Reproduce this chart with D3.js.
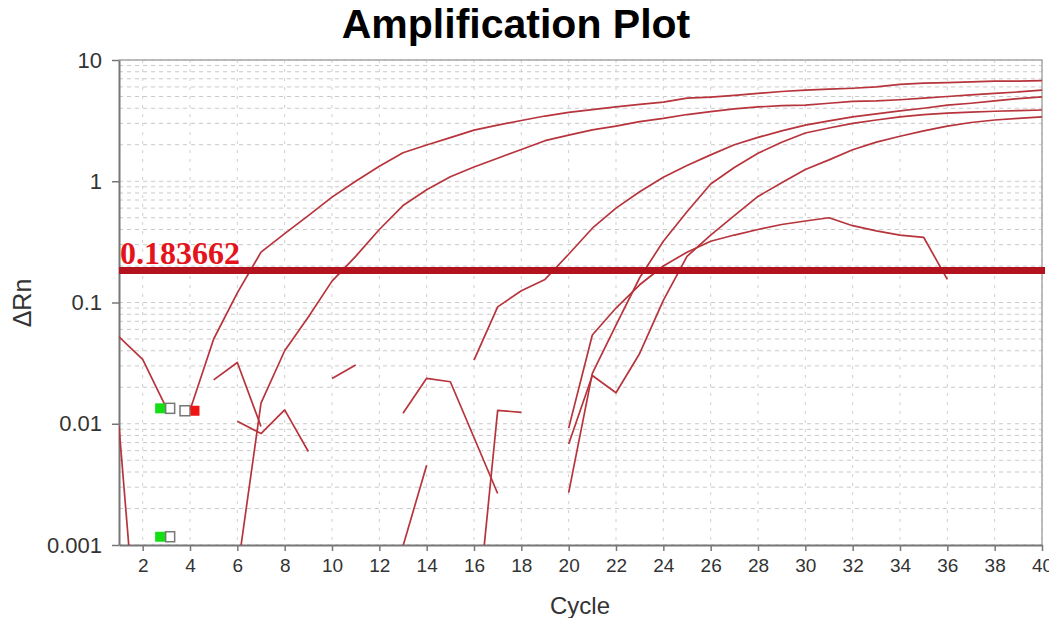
<!DOCTYPE html>
<html>
<head>
<meta charset="utf-8">
<script src="https://cdn.jsdelivr.net/npm/d3@7"></script>
<style>
  body { margin: 0; background: #fff; }
  svg { font-family: "Liberation Sans", Arial, sans-serif; }
</style>
</head>
<body>
<div id="chart"></div>
<script>
// Data
var xTicks = [2, 4, 6, 8, 10, 12, 14, 16, 18, 20, 22, 24, 26, 28, 30, 32, 34, 36, 38, 40];
var yTicks = [0.001, 0.01, 0.1, 1, 10];
var yTickLabels = ["0.001", "0.01", "0.1", "1", "10"];
var threshold = 0.183662;

// amplification curves, one value per cycle from the start cycle
var curveA = [0.0129, 0.05, 0.12, 0.26, 0.37, 0.52, 0.74, 1.0, 1.33, 1.72, 1.99, 2.29, 2.64, 2.9, 3.17,
  3.45, 3.7, 3.9, 4.1, 4.3, 4.5, 4.85, 4.95, 5.1, 5.3, 5.5, 5.65, 5.75, 5.85, 6.0, 6.3, 6.45, 6.5,
  6.6, 6.7, 6.7, 6.75];                                   // cycles 4..40
var curveB = [0.0006, 0.0148, 0.04, 0.076, 0.15, 0.24, 0.40, 0.63, 0.85, 1.09, 1.31, 1.55, 1.83, 2.16,
  2.4, 2.65, 2.85, 3.1, 3.3, 3.55, 3.75, 3.95, 4.1, 4.2, 4.25, 4.4, 4.55, 4.6, 4.7, 4.85, 5.0, 5.15,
  5.3, 5.45, 5.65];                                       // cycles 6..40
var curveC = [0.0335, 0.092, 0.125, 0.155, 0.25, 0.41, 0.6, 0.82, 1.08, 1.35, 1.65, 2.0, 2.3, 2.6, 2.9,
  3.15, 3.4, 3.6, 3.8, 4.0, 4.25, 4.4, 4.6, 4.8, 4.96];   // cycles 16..40
var curveD = [0.0027, 0.026, 0.065, 0.16, 0.32, 0.56, 0.95, 1.3, 1.7, 2.1, 2.5, 2.75, 3.0, 3.2, 3.4,
  3.55, 3.65, 3.72, 3.78, 3.83, 3.87];                     // cycles 20..40
var curveE = [0.0068, 0.025, 0.0180, 0.038, 0.104, 0.24, 0.36, 0.52, 0.75, 0.97, 1.25, 1.5, 1.82, 2.1,
  2.35, 2.6, 2.85, 3.05, 3.2, 3.3, 3.39];                  // cycles 20..40
var curveF = [0.0092, 0.054, 0.09, 0.14, 0.2, 0.26, 0.32, 0.36, 0.4, 0.44, 0.47, 0.5, 0.43, 0.39, 0.36,
  0.345, 0.155];                                          // cycles 20..36
// short noisy traces
var noise1 = [0.052, 0.034, 0.0135];                      // cycles 1..3
var noise2 = [0.0095, 0.00004];                           // cycles 1..2
var noise3 = [0.023, 0.032, 0.0095];                      // cycles 5..7
var noise4 = [0.0105, 0.0083, 0.013, 0.0059];             // cycles 6..9
var noise5 = [0.0236, 0.0305];                            // cycles 10..11
var noise6 = [0.0122, 0.0237, 0.0222, 0.0077, 0.00266];   // cycles 13..17
var noise7 = [0.00098, 0.00455];                          // cycles 13..14
var noise8 = [0.00014, 0.0129, 0.0124];                   // cycles 16..18

var curveStarts = [4, 6, 16, 20, 20, 20, 1, 1, 5, 6, 10, 13, 13, 16];
var curveValues = [curveA, curveB, curveC, curveD, curveE, curveF,
  noise1, noise2, noise3, noise4, noise5, noise6, noise7, noise8];

// baseline marker pairs
var markerCycles = [2.95, 4.0, 2.95];
var markerValues = [0.0134, 0.0128, 0.00117];
var markerLeft = ["#12e012", "#ffffff", "#12e012"];
var markerRight = ["#ffffff", "#ee1515", "#ffffff"];

//   Base chart space
var margin = {top: 60, right: 7, bottom: 73, left: 119},
  totalW = 1049, totalH = 618,
  width = totalW - margin.left - margin.right,
  height = totalH - margin.top - margin.bottom;

var svg = d3.select('#chart').append('svg')
  .attr('width', totalW)
  .attr('height', totalH);
var g = svg.append('g')
  .attr('transform', 'translate(' + margin.left + ',' + margin.top + ')');

var x = d3.scaleLinear().domain([1, 40]).range([0, width]);
var y = d3.scaleLog().domain([0.001, 10]).range([height, 0]);

// Grid
g.append('g').selectAll('line')
  .data(y.ticks())
  .enter().append('line')
  .attr('x1', 0).attr('x2', width)
  .attr('y1', function(d) { return y(d); })
  .attr('y2', function(d) { return y(d); })
  .attr('stroke', '#c9c9c9')
  .attr('stroke-dasharray', '4,4');
g.append('g').selectAll('line')
  .data(xTicks)
  .enter().append('line')
  .attr('y1', 0).attr('y2', height)
  .attr('x1', function(d) { return x(d); })
  .attr('x2', function(d) { return x(d); })
  .attr('stroke', '#cfcfcf')
  .attr('stroke-dasharray', '3,6');

// frame (top and right)
g.append('path')
  .attr('d', 'M0,0H' + width + 'V' + height)
  .attr('fill', 'none')
  .attr('stroke', '#a8a8a8')
  .attr('stroke-width', 1.5);

// Axes
var yAxis = g.append('g')
  .call(d3.axisLeft(y).tickValues(yTicks)
    .tickFormat(function(d, i) { return yTickLabels[i]; })
    .tickSize(7).tickSizeOuter(0).tickPadding(10));
var xAxis = g.append('g')
  .attr('transform', 'translate(0,' + height + ')')
  .call(d3.axisBottom(x).tickValues(xTicks).tickSize(6).tickSizeOuter(0).tickPadding(8));
[xAxis, yAxis].forEach(function(a) {
  a.attr('font-family', '"Liberation Sans", Arial, sans-serif');
  a.select('.domain').attr('stroke', '#777').attr('stroke-width', 2);
  a.selectAll('.tick line').attr('stroke', '#777').attr('stroke-width', 1.5);
  a.selectAll('.tick text').attr('fill', '#333');
});
yAxis.attr('font-size', '22px');
xAxis.attr('font-size', '19px');

// Curves
g.append('clipPath').attr('id', 'plotclip')
  .append('rect').attr('width', width).attr('height', height);

var line = d3.line()
  .x(function(d) { return x(d[0]); })
  .y(function(d) { return y(d[1]); });

g.append('g').attr('clip-path', 'url(#plotclip)')
  .selectAll('path')
  .data(curveValues.map(function(vals, i) {
    return vals.map(function(v, j) { return [curveStarts[i] + j, v]; });
  }))
  .enter().append('path')
  .attr('d', line)
  .attr('fill', 'none')
  .attr('stroke', '#b7343c')
  .attr('stroke-width', 1.7)
  .attr('stroke-linejoin', 'round');

// Threshold
g.append('line')
  .attr('x1', x(1)).attr('x2', x(40) + 3)
  .attr('y1', y(threshold)).attr('y2', y(threshold))
  .attr('stroke', '#b2131f')
  .attr('stroke-width', 7);
g.append('text')
  .text(threshold.toString())
  .attr('x', x(1) + 1)
  .attr('y', y(threshold) - 6)
  .style('font-family', '"Liberation Serif", "Times New Roman", serif')
  .style('font-weight', 'bold')
  .style('font-size', '32px')
  .attr('fill', '#e3141c');

// Markers
var marks = g.append('g');
markerCycles.forEach(function(c, i) {
  var cx = x(c), cy = y(markerValues[i]);
  marks.append('rect')
    .attr('x', cx - 10).attr('y', cy - 5).attr('width', 10).attr('height', 10)
    .attr('fill', markerLeft[i])
    .attr('stroke', markerLeft[i] == '#ffffff' ? '#777' : 'none')
    .attr('stroke-width', 1.5);
  marks.append('rect')
    .attr('x', cx + 0.5).attr('y', cy - 5).attr('width', 9).attr('height', 10)
    .attr('fill', markerRight[i])
    .attr('stroke', markerRight[i] == '#ffffff' ? '#777' : 'none')
    .attr('stroke-width', 1.5);
});

// Titles
svg.append('text')
  .text('Amplification Plot')
  .attr('x', 516)
  .attr('y', 38)
  .attr('text-anchor', 'middle')
  .attr('font-weight', 'bold')
  .attr('font-size', '41px')
  .attr('fill', '#000');

svg.append('text')
  .text('Cycle')
  .attr('x', 580)
  .attr('y', 614)
  .attr('text-anchor', 'middle')
  .attr('font-size', '24px')
  .attr('fill', '#333');

svg.append('text')
  .text('ΔRn')
  .attr('text-anchor', 'middle')
  .attr('font-size', '25px')
  .attr('fill', '#333')
  .attr('transform', 'translate(31,303)rotate(-90)');
</script>
</body>
</html>
